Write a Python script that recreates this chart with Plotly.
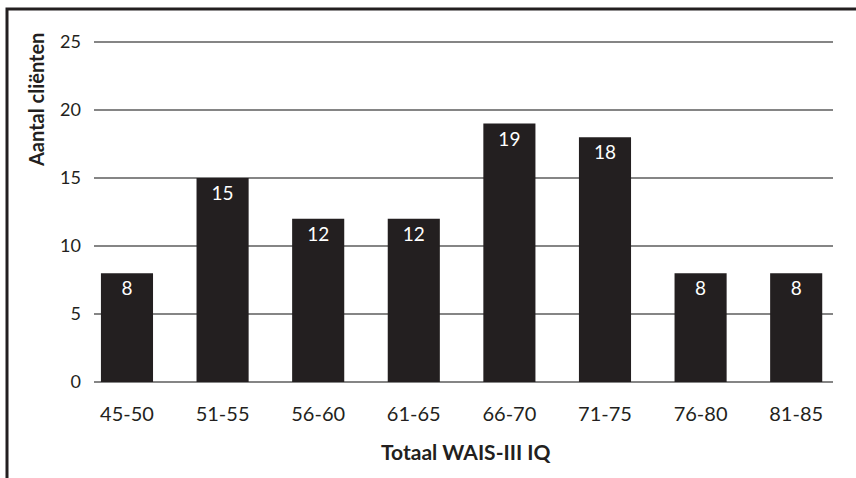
import plotly.graph_objects as go

# IQ bands and number of clients per band
categories = ["45-50", "51-55", "56-60", "61-65", "66-70", "71-75", "76-80", "81-85"]
clients = [8, 15, 12, 12, 19, 18, 8, 8]
y_ticks = [0, 5, 10, 15, 20, 25]

ink = "#231f20"
font_family = "Lato, 'Open Sans', sans-serif"

W, H = 856, 478
unit = 13.6                      # pixels per client on the value axis
y_lo, y_hi = -0.15, 25.15        # small headroom so the 0 and 25 grid lines show
m_l, m_r = 94, 23
m_b = 96 - (-y_lo) * unit
m_t = 42 - (y_hi - 25) * unit
pw, ph = W - m_l - m_r, H - m_t - m_b


def px_x(px):
    return (px - m_l) / pw


def px_y(py):
    return (H - m_b - py) / ph


fig = go.Figure(
    go.Bar(
        x=list(range(len(categories))),
        y=clients,
        width=0.545,
        marker=dict(color=ink, line=dict(width=0)),
        text=[str(v) for v in clients],
        textposition="inside",
        insidetextanchor="end",
        textangle=0,
        textfont=dict(family=font_family, size=19, color="white"),
        cliponaxis=False,
    )
)

fig.update_layout(
    width=W,
    height=H,
    margin=dict(l=m_l, r=m_r, t=m_t, b=m_b),
    paper_bgcolor="white",
    plot_bgcolor="white",
    showlegend=False,
    uniformtext=dict(minsize=19, mode="show"),
    font=dict(family=font_family, color=ink),
    xaxis=dict(
        range=[-0.345, 7.385],
        tickmode="array",
        tickvals=list(range(len(categories))),
        ticktext=categories,
        tickfont=dict(size=20, color=ink),
        showgrid=False,
        zeroline=False,
        showline=False,
        ticks="",
        ticklabelstandoff=16,
    ),
    yaxis=dict(
        range=[y_lo, y_hi],
        tickmode="array",
        tickvals=y_ticks,
        ticktext=[str(v) for v in y_ticks],
        tickfont=dict(size=18, color=ink),
        showgrid=True,
        gridcolor="#858585",
        gridwidth=1.6,
        zeroline=False,
        showline=False,
        ticks="",
        ticklabelstandoff=12,
    ),
    annotations=[
        dict(
            text="<b>Aantal cliënten</b>",
            xref="paper", yref="paper",
            x=px_x(36), y=px_y(100),
            xanchor="center", yanchor="middle",
            textangle=-90, showarrow=False,
            font=dict(size=20, color=ink, family=font_family),
        ),
        dict(
            text="<b>Totaal WAIS-III IQ</b>",
            xref="paper", yref="paper",
            x=px_x(465), y=px_y(452),
            xanchor="center", yanchor="middle",
            showarrow=False,
            font=dict(size=21, color=ink, family=font_family),
        ),
    ],
    shapes=[
        # frame around the figure (top and left edges visible)
        dict(
            type="rect", xref="paper", yref="paper",
            x0=px_x(7), x1=px_x(W + 20), y0=px_y(H + 20), y1=px_y(9),
            line=dict(color=ink, width=3), fillcolor="rgba(0,0,0,0)",
            layer="above",
        ),
    ],
)

fig.write_html("out.html")
